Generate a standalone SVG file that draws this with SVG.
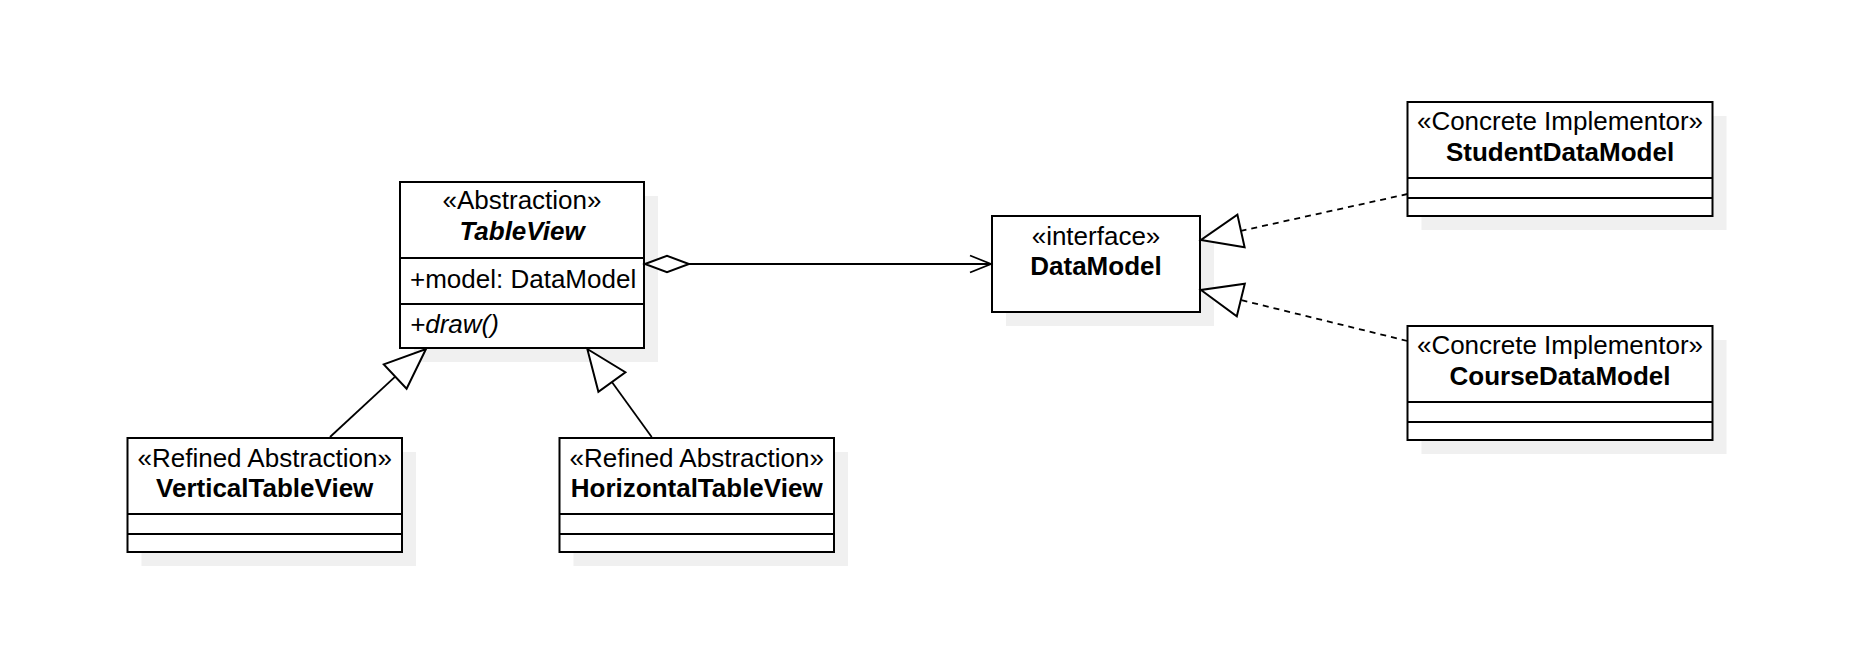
<svg xmlns="http://www.w3.org/2000/svg" width="1858" height="672" viewBox="0 0 1858 672">
<style>
  .box { fill: #ffffff; stroke: #000000; stroke-width: 2; }
  .shadow { fill: #f0f0f0; stroke: none; }
  .div { stroke: #000000; stroke-width: 2; }
  text { font-family: "Liberation Sans", Arial, sans-serif; font-size: 26px; fill: #000000; }
  .c { text-anchor: middle; }
  .b { font-weight: bold; }
  .i { font-style: italic; }
  .line { fill: none; stroke: #000000; stroke-width: 1.8; }
  .dash { stroke-dasharray: 6 5; }
  .head { fill: #ffffff; stroke: #000000; stroke-width: 2; stroke-linejoin: miter; }
</style>
<rect width="1858" height="672" fill="#ffffff"/>

<g id="TableView">
  <rect class="shadow" x="414" y="196" width="244" height="166"/>
  <rect class="box" x="400" y="182" width="244" height="166"/>
  <line class="div" x1="400" y1="258" x2="644" y2="258"/>
  <line class="div" x1="400" y1="304" x2="644" y2="304"/>
  <text class="c" x="522" y="209">«Abstraction»</text>
  <text class="c b i" x="522" y="240">TableView</text>
  <text x="410" y="288">+model: DataModel</text>
  <text class="i" x="410" y="333">+draw()</text>
</g>

<g id="DataModel">
  <rect class="shadow" x="1006" y="230" width="208" height="96"/>
  <rect class="box" x="992" y="216" width="208" height="96"/>
  <text class="c" x="1096" y="245">«interface»</text>
  <text class="c b" x="1096" y="275">DataModel</text>
</g>

<g id="StudentDataModel">
  <rect class="shadow" x="1421.5" y="116" width="305" height="114"/>
  <rect class="box" x="1407.5" y="102" width="305" height="114"/>
  <line class="div" x1="1407.5" y1="178" x2="1712.5" y2="178"/>
  <line class="div" x1="1407.5" y1="198" x2="1712.5" y2="198"/>
  <text class="c" x="1560" y="129.5">«Concrete Implementor»</text>
  <text class="c b" x="1560" y="160.5">StudentDataModel</text>
</g>

<g id="CourseDataModel">
  <rect class="shadow" x="1421.5" y="340" width="305" height="114"/>
  <rect class="box" x="1407.5" y="326" width="305" height="114"/>
  <line class="div" x1="1407.5" y1="402" x2="1712.5" y2="402"/>
  <line class="div" x1="1407.5" y1="422" x2="1712.5" y2="422"/>
  <text class="c" x="1560" y="353.5">«Concrete Implementor»</text>
  <text class="c b" x="1560" y="384.5">CourseDataModel</text>
</g>

<g id="VerticalTableView">
  <rect class="shadow" x="141.5" y="452" width="274.5" height="114"/>
  <rect class="box" x="127.5" y="438" width="274.5" height="114"/>
  <line class="div" x1="127.5" y1="514" x2="402" y2="514"/>
  <line class="div" x1="127.5" y1="534" x2="402" y2="534"/>
  <text class="c" x="264.7" y="466.5">«Refined Abstraction»</text>
  <text class="c b" x="264.7" y="497">VerticalTableView</text>
</g>

<g id="HorizontalTableView">
  <rect class="shadow" x="573.5" y="452" width="274.5" height="114"/>
  <rect class="box" x="559.5" y="438" width="274.5" height="114"/>
  <line class="div" x1="559.5" y1="514" x2="834" y2="514"/>
  <line class="div" x1="559.5" y1="534" x2="834" y2="534"/>
  <text class="c" x="696.7" y="466.5">«Refined Abstraction»</text>
  <text class="c b" x="696.7" y="497">HorizontalTableView</text>
</g>

<g id="connectors">
  <!-- aggregation TableView -> DataModel -->
  <line class="line" x1="689" y1="264" x2="991" y2="264"/>
  <polygon class="head" points="645,264 667,255.7 689,264 667,272.3"/>
  <polyline class="line" points="970,255.5 991,264 970,272.5"/>
  <!-- generalization VerticalTableView -> TableView -->
  <line class="line" x1="330" y1="437" x2="395.2" y2="376.6"/>
  <polygon class="head" points="426,349 406.6,388.8 383.8,364.4"/>
  <!-- generalization HorizontalTableView -> TableView -->
  <line class="line" x1="651.7" y1="437" x2="611.9" y2="382"/>
  <polygon class="head" points="587.3,349 625.4,372.2 598.4,391.8"/>
  <!-- realization StudentDataModel -> DataModel -->
  <line class="line dash" x1="1407.5" y1="194" x2="1241" y2="230.9"/>
  <polygon class="head" points="1201,240 1244.6,247.2 1237.4,214.6"/>
  <!-- realization CourseDataModel -> DataModel -->
  <line class="line dash" x1="1407.5" y1="341" x2="1240.8" y2="300"/>
  <polygon class="head" points="1201,290 1236.8,316.2 1244.8,283.8"/>
</g>
</svg>
